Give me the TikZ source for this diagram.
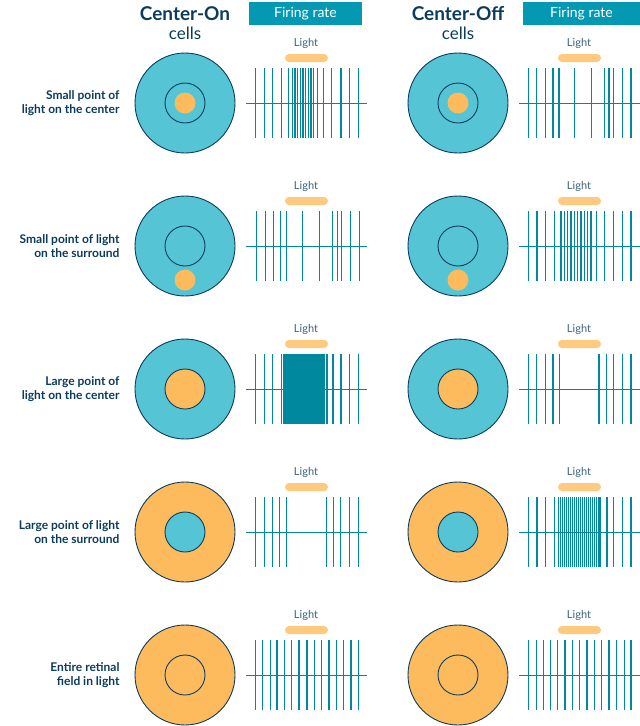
\documentclass[tikz,border=0pt]{standalone}
\usepackage{fontspec}
\setmainfont{Lato}
\definecolor{teal}{HTML}{55C5D5}
\definecolor{orng}{HTML}{FDBB5E}
\definecolor{lbar}{HTML}{FFC97F}
\definecolor{spk}{HTML}{00899E}
\definecolor{navy}{HTML}{0B3C5D}
\definecolor{hdr}{HTML}{0399B2}
\tikzset{
 outline/.style={draw=navy,line width=0.9pt},
 spike/.style={draw=spk,line width=1.2pt},
 axisline/.style={draw=spk,line width=1pt},
 lightbar/.style={fill=lbar,rounded corners=4pt},
 rowlabel/.style={align=right,anchor=east,text=navy,font=\fontsize{12}{14}\selectfont\bfseries},
 lighttxt/.style={text=navy!80,font=\fontsize{11}{13}\selectfont},
 hdrbox/.style={fill=hdr,text=white,font=\fontsize{14}{16}\selectfont,minimum height=23pt,inner sep=0pt},
}
\newcommand{\train}[3]{% x0, y, list
  \draw[axisline] (#1,#2) -- ++(121,0);
  \foreach \s in {#3} {\draw[spike] (\s,#2-35) -- (\s,#2+35);}
  \fill[lightbar] (#1+39,#2-49) rectangle (#1+82,#2-41);
  \node[lighttxt] at (#1+60,#2-60) {Light};
}
\newcommand{\dens}[3]{% start, end, step
  \foreach \s in {#1,#3,...,#2}{\s,}}
\begin{document}
\begin{tikzpicture}[x=1pt,y=-1pt]
\useasboundingbox (0,0) rectangle (640,726);
% headers
\node[text=navy,font=\fontsize{19}{20}\selectfont\bfseries] (h1) at (185,14) {Center-On};
\node[text=navy,font=\fontsize{17}{18}\selectfont] (c1) at (185,33) {cells};
\node[text=navy,font=\fontsize{19}{20}\selectfont\bfseries] (h2) at (458,14) {Center-Off};
\node[text=navy,font=\fontsize{17}{18}\selectfont] (c2) at (458,33) {cells};
\node[hdrbox,minimum width=113pt] (f1) at (305.5,13.5) {Firing rate};
\node[hdrbox,minimum width=117pt] (f2) at (581.5,13.5) {Firing rate};
% row labels
\node[rowlabel] (l1) at (123,103) {Small point of\\light on the center};
\node[rowlabel] (l2) at (123,246) {Small point of light\\on the surround};
\node[rowlabel] (l3) at (123,389) {Large point of\\light on the center};
\node[rowlabel] (l4) at (123,532) {Large point of light\\on the surround};
\node[rowlabel] (l5) at (123,675) {Entire retinal\\field in light};
% row 1
\foreach \cx in {185,458}{
 \draw[outline,fill=teal] (\cx,103) circle (50);
 \draw[outline] (\cx,103) circle (20);
 \fill[orng] (\cx,103) circle (10.5);
}
\train{246}{103}{255.7,264.3,272.3,281.7,288.3,292.3,295,297.7,300.3,303,305.7,308.3,311,313.7,317.7,323.7,331.7,341,349.7,358.3}
\train{519}{103}{528.3,536.3,545.7,553,559,574.3,591.7,604.3,609,613.7,622.3,631}
% row 2
\foreach \cx in {185,458}{
 \draw[outline,fill=teal] (\cx,246) circle (50);
 \draw[outline] (\cx,246) circle (20);
 \fill[orng] (\cx,280) circle (10.5);
}
\train{246}{246}{256.3,265.7,273.7,280.3,286.3,302.3,319.3,332.7,337.3,341.3,350.3,359.3}
\train{519}{246}{528.3,537,545.7,554.3,561,564.3,567.7,571,574.3,577.7,581,584.3,587.7,591,596.3,604.3,613.7,622.3,631}
% row 3
\foreach \cx in {185,458}{
 \draw[outline,fill=teal] (\cx,389) circle (50);
 \draw[outline,fill=orng] (\cx,389) circle (20);
}
\train{246}{389}{255.7,264.3,272.3,281.7,284,286,288,290,292,294,296,298,300,302,304,306,308,310,312,314,316,318,320,322,324,327,333,341,349.7,358.3}
\train{519}{389}{528.3,536.3,545.7,553,559.7,599,606.3,613.7,622.3,631}
% row 4
\foreach \cx in {185,458}{
 \draw[outline,fill=orng] (\cx,532) circle (50);
 \draw[outline,fill=teal] (\cx,532) circle (20);
}
\train{246}{532}{255.7,264.3,272.3,279.7,286.3,326.3,333.7,340.3,349.7,358.3}
\train{519}{532}{528.3,537,545.7,554.3,558.3,560.3,562.3,564.3,566.3,568.3,570.3,572.3,574.3,576.3,578.3,580.3,582.3,584.3,586.3,588.3,590.3,592.3,594.3,596.3,598.3,600,607,613.7,622.3,631}
% row 5
\foreach \cx in {185,458}{
 \draw[outline,fill=orng] (\cx,675) circle (50);
 \draw[outline] (\cx,675) circle (20);
}
\train{246}{675}{255.7,262.3,270.3,277,284.3,291.7,299,307,314.3,321.7,329,336.3,343.7,351,358.3}
\train{519}{675}{528.3,536.3,543.7,550.3,557.7,565,572.3,579.7,587,594.3,601.7,609,616.3,624.3,631}
\end{tikzpicture}
\end{document}
